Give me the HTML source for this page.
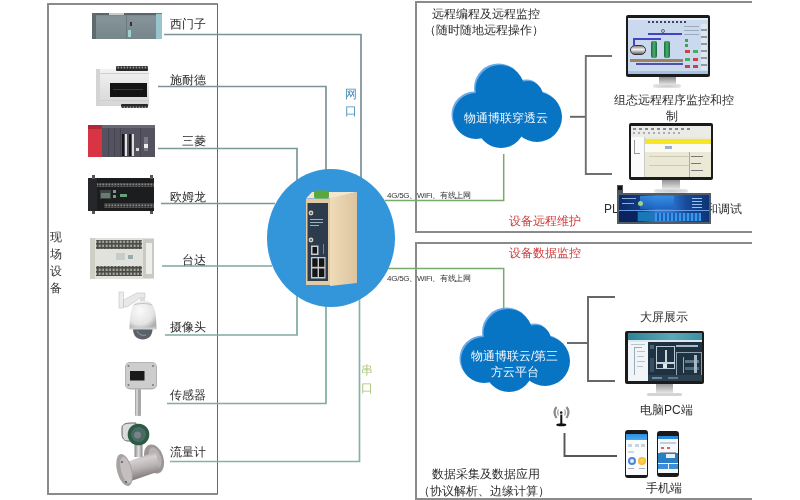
<!DOCTYPE html>
<html><head><meta charset="utf-8">
<style>
*{margin:0;padding:0;box-sizing:border-box}
html,body{width:800px;height:500px;overflow:hidden;background:#fff}
body{position:relative;font-family:"Liberation Sans",sans-serif;color:#333}
.a{position:absolute}
.t{position:absolute;white-space:nowrap;line-height:1}
.hl{position:absolute;height:2px}
.vl{position:absolute;width:2px}
.lab{font-size:12px;color:#2a2a2a;text-align:right;width:60px}
#wrap{position:absolute;left:0;top:0;width:800px;height:500px;filter:blur(0.35px)}
</style></head><body><div id="wrap">

<!-- left box -->
<div class="a" style="left:47px;top:3px;width:171px;height:492px;border:2px solid #8a8a8a;border-right:1.5px solid #686868;border-radius:1px"></div>
<div class="t" style="left:50px;top:228.5px;font-size:12px;line-height:17.2px;width:13px;white-space:normal;color:#333">现场设备</div>

<!-- right boxes -->
<div class="a" style="left:415px;top:1px;width:337px;height:232px;border:2px solid #8a8a8a;border-right:none"></div>
<div class="a" style="left:415px;top:242px;width:337px;height:258px;border:2px solid #8a8a8a;border-right:none"></div>


<!-- devices -->
<svg class="a" style="left:0;top:0" width="220" height="500">
 <defs>
  <linearGradient id="gS" x1="0" y1="0" x2="0" y2="1"><stop offset="0" stop-color="#6a787c"/><stop offset="0.15" stop-color="#84949a"/><stop offset="1" stop-color="#76868a"/></linearGradient>
  <linearGradient id="gW" x1="0" y1="0" x2="0" y2="1"><stop offset="0" stop-color="#f2f2f2"/><stop offset="1" stop-color="#d6d6d6"/></linearGradient>
  <linearGradient id="gM" x1="0" y1="0" x2="1" y2="0"><stop offset="0" stop-color="#cfd3d6"/><stop offset="0.5" stop-color="#f4f4f4"/><stop offset="1" stop-color="#a8acb0"/></linearGradient>
  <radialGradient id="gD" cx="0.4" cy="0.35" r="0.7"><stop offset="0" stop-color="#fafafa"/><stop offset="0.7" stop-color="#e4e4e4"/><stop offset="1" stop-color="#b0b0b0"/></radialGradient>
  <radialGradient id="gG" cx="0.5" cy="0.5" r="0.5"><stop offset="0" stop-color="#3a5a70"/><stop offset="0.6" stop-color="#2a6a50"/><stop offset="1" stop-color="#3a9a6a"/></radialGradient>
 </defs>
 <!-- siemens -->
 <rect x="92" y="13" width="70" height="26" fill="url(#gS)"/>
 <rect x="92" y="13" width="4" height="26" fill="#5e6a6e"/>
 <rect x="96" y="13" width="60" height="2" fill="#5a666a"/>
 <rect x="109" y="13" width="15" height="2" fill="#c8cccc"/>
 <rect x="126" y="15" width="1" height="24" fill="#6a7a7e"/>
 <rect x="156" y="14" width="6" height="25" fill="#98c4cc"/>
 <rect x="128" y="30" width="3" height="7" fill="#a0d0d0"/>
 <rect x="130" y="22" width="2" height="4" fill="#333"/>
 <!-- schneider -->
 <defs>
  <pattern id="pS" x="0" y="0" width="3" height="5" patternUnits="userSpaceOnUse"><rect width="3" height="5" fill="#2a2a2a"/><rect x="0.6" y="1.5" width="1.6" height="2" fill="#9a9a9a"/></pattern>
 </defs>
 <rect x="96" y="69" width="53" height="37" rx="1" fill="url(#gW)"/>
 <rect x="96" y="69" width="4" height="37" fill="#d4d4d4"/>
 <rect x="100" y="73" width="49" height="1" fill="#cfcfcf"/>
 <rect x="100" y="100" width="49" height="1" fill="#cfcfcf"/>
 <rect x="116" y="66" width="32" height="5" rx="1" fill="url(#pS)"/>
 <rect x="110" y="83" width="37" height="14" fill="#141414"/>
 <rect x="113" y="89" width="30" height="1" fill="#3a3a3a"/>
 <rect x="121" y="104" width="27" height="4" rx="1" fill="url(#pS)"/>
 <!-- mitsubishi -->
 <rect x="88" y="125" width="67" height="32" fill="#54525e"/>
 <rect x="88" y="125" width="14" height="32" fill="#d83444"/>
 <rect x="88" y="125" width="14" height="4" fill="#b02838"/>
 <rect x="102" y="125" width="53" height="3" fill="#6a6874"/>
 <rect x="108" y="128" width="1" height="29" fill="#464450"/>
 <rect x="114" y="128" width="1" height="29" fill="#464450"/>
 <rect x="120" y="128" width="1" height="29" fill="#464450"/>
 <rect x="122" y="134" width="2" height="22" fill="#151515"/>
 <rect x="125" y="134" width="2" height="22" fill="#e4e4e4"/>
 <rect x="129" y="134" width="2" height="22" fill="#151515"/>
 <rect x="132" y="134" width="2" height="22" fill="#dcdcdc"/>
 <rect x="136" y="148" width="3" height="3" fill="#ddd"/>
 <rect x="140" y="128" width="1" height="29" fill="#464450"/>
 <rect x="144" y="137" width="4" height="14" fill="#7a7a80"/>
 <rect x="144" y="144" width="4" height="4" fill="#eee"/>
 <!-- omron -->
 <defs>
  <pattern id="pT" x="0" y="0" width="3" height="3" patternUnits="userSpaceOnUse"><rect width="3" height="3" fill="#3a3a3a"/><rect x="0.5" y="0.5" width="1.6" height="1.6" fill="#8a8a8a"/></pattern>
  <pattern id="pD" x="0" y="0" width="3.5" height="4" patternUnits="userSpaceOnUse"><rect width="3.5" height="4" fill="#4a4a46"/><rect x="0.6" y="0.6" width="2" height="2.4" fill="#a8a8a2"/></pattern>
 </defs>
 <rect x="88" y="178" width="66" height="33" fill="#1c1d1f"/>
 <rect x="88" y="178" width="9" height="33" fill="#26272a"/>
 <rect x="97" y="183" width="57" height="4" fill="url(#pT)"/>
 <rect x="104" y="203" width="50" height="5" fill="url(#pT)"/>
 <rect x="100" y="190" width="11" height="9" fill="#3c4442"/>
 <rect x="101" y="193" width="9" height="5" fill="#6a7a70"/>
 <rect x="113" y="190" width="3" height="3" fill="#7a9a80"/>
 <rect x="113" y="195" width="3" height="3" fill="#7a9a80"/>
 <rect x="120" y="194" width="7" height="3" fill="#6aa07a"/>
 <rect x="92" y="175" width="3" height="4" fill="#555"/>
 <rect x="150" y="175" width="3" height="4" fill="#555"/>
 <rect x="92" y="211" width="3" height="3" fill="#555"/>
 <rect x="150" y="211" width="3" height="3" fill="#555"/>
 <!-- delta -->
 <rect x="90" y="238" width="64" height="41" fill="#e2e2dc"/>
 <rect x="90" y="238" width="5" height="41" fill="#cfcfc8"/>
 <rect x="96" y="240" width="46" height="9" fill="url(#pD)"/>
 <rect x="96" y="266" width="46" height="10" fill="url(#pD)"/>
 <rect x="143" y="239" width="11" height="39" fill="#cacac4"/>
 <rect x="146" y="243" width="6" height="31" fill="#eeeeea"/>
 <rect x="116" y="253" width="9" height="7" fill="#c4cccc"/>
 <rect x="128" y="255" width="5" height="4" fill="#9aa"/>
 <!-- camera -->
 <rect x="119" y="292" width="4.5" height="16" fill="#ececec" stroke="#c4c4c4" stroke-width="0.6"/>
 <polygon points="123.5,300 137,293 145,293 145,298 140,298 127,307 123.5,307" fill="#e8e8e8" stroke="#c0c0c0" stroke-width="0.6"/>
 <rect x="140" y="297" width="5" height="4" fill="#dcdcdc"/>
 <path d="M129.5,329 C129.5,318 131,306 135,303 C139,300 147,300 151,303 C155,306 156.5,318 156.5,329 Z" fill="url(#gD)"/>
 <path d="M134,305 C138,303 148,303 152,305" fill="none" stroke="#b8b8b8" stroke-width="0.8"/>
 <path d="M133,329 L152.5,329 C152.5,336 148,339.5 142.7,339.5 C137.5,339.5 133,336 133,329 Z" fill="#5c6068"/>
 <path d="M137,331 C139,335 143,336 146,335" fill="none" stroke="#9aa0a8" stroke-width="1"/>
 <rect x="129.5" y="327.5" width="27" height="2" fill="#d0d0d0"/>
 <!-- sensor -->
 <rect x="135" y="388" width="6" height="28" rx="1" fill="#a8a8a8"/>
 <rect x="136" y="388" width="2" height="28" fill="#d0d0d0"/>
 <rect x="125" y="362" width="32" height="27.5" rx="5" fill="#b4b4b4"/>
 <rect x="126" y="363" width="30" height="25" rx="4" fill="#cdcdcd"/>
 <circle cx="128.5" cy="366" r="1" fill="#777"/><circle cx="153" cy="366" r="1" fill="#777"/>
 <circle cx="128.5" cy="385" r="1" fill="#777"/><circle cx="153" cy="385" r="1" fill="#777"/>
 <rect x="130" y="371" width="14.5" height="9.5" fill="#1a1a1a"/>
 <!-- flowmeter -->
 <defs>
  <linearGradient id="gP" x1="0" y1="0" x2="0.25" y2="1"><stop offset="0" stop-color="#8e8888"/><stop offset="0.35" stop-color="#d4d0d0"/><stop offset="0.6" stop-color="#bcb6b6"/><stop offset="1" stop-color="#7a7474"/></linearGradient>
  <linearGradient id="gN" x1="0" y1="0" x2="1" y2="0"><stop offset="0" stop-color="#888"/><stop offset="0.5" stop-color="#ddd"/><stop offset="1" stop-color="#888"/></linearGradient>
 </defs>
 <ellipse cx="154" cy="459" rx="9.5" ry="15" fill="#9c9696" transform="rotate(-18 154 459)"/>
 <ellipse cx="155" cy="458" rx="6" ry="11" fill="#b8b2b2" transform="rotate(-18 155 458)"/>
 <rect x="134.5" y="443" width="8" height="14" fill="url(#gN)"/>
 <polygon points="127,462 156,451.5 160,471 131,481" fill="url(#gP)"/>
 <ellipse cx="124.5" cy="470" rx="7.5" ry="16.5" fill="#a8a2a2" transform="rotate(-14 124.5 470)"/>
 <ellipse cx="126" cy="470" rx="5" ry="13.5" fill="#c4bebe" transform="rotate(-14 126 470)"/>
 <circle cx="122" cy="462" r="1" fill="#555"/><circle cx="126" cy="482" r="1" fill="#555"/>
 <path d="M122,428 C122,424 126,423 132,423 L136,423 L136,441 L128,441 C124,441 122,438 122,434 Z" fill="#d8dcdc" stroke="#666" stroke-width="1"/>
 <circle cx="138.5" cy="434.5" r="10.8" fill="#2c5a42"/>
 <circle cx="138.5" cy="434.5" r="7.5" fill="#4a6a66"/>
 <circle cx="137.5" cy="435" r="3.5" fill="#7a8488"/>
</svg>

<!-- connection lines -->
<svg class="a" style="left:0;top:0" width="800" height="500">
 <g fill="none" stroke-width="1.7">
  <polyline points="164,34.5 361,34.5 361,180" stroke="#7d9199"/>
  <polyline points="158,86.5 326,86.5 326,175" stroke="#7d9399"/>
  <polyline points="158,148.5 297,148.5 297,185" stroke="#7a9a98"/>
  <polyline points="161,203.5 275,203.5" stroke="#7a9a98"/>
  <polyline points="162,266 272,266" stroke="#7fa3a0"/>
  <polyline points="165,335 297,335 297,295" stroke="#80a8a2"/>
  <polyline points="167,403.5 326,403.5 326,300" stroke="#80aca2"/>
  <polyline points="170,461.5 359.5,461.5 359.5,295" stroke="#88b0a8"/>
  <polyline points="385,200.5 503.7,200.5 503.7,154" stroke="#78aa6e" stroke-width="1.5"/>
  <polyline points="388,268.5 503.7,268.5 503.7,310" stroke="#78aa6e" stroke-width="1.5"/>
  <polyline points="570,116.8 585.8,116.8" stroke="#666" stroke-width="1.9"/>
  <polyline points="612,56 585.8,56 585.8,174 612,174" stroke="#707070" stroke-width="1.9"/>
  <polyline points="567,343 588,343" stroke="#666" stroke-width="1.9"/>
  <polyline points="615,297 588,297 588,381 615,381" stroke="#666" stroke-width="1.9"/>
  <polyline points="564.5,433 564.5,456 617,456" stroke="#555" stroke-width="1.9"/>
 </g>
</svg>

<!-- circle -->
<div class="a" style="left:267px;top:169px;width:128px;height:138px;border-radius:50%;background:#3496da"></div>


<!-- clouds -->
<svg class="a" style="left:0;top:0" width="800" height="500">
 <defs>
  <g id="cl">
   <circle cx="500" cy="89.5" r="24.5"/>
   <circle cx="528" cy="96" r="15"/>
   <circle cx="537" cy="117" r="25"/>
   <circle cx="476" cy="116" r="23"/>
   <circle cx="501" cy="124" r="24"/>
   <rect x="476" y="100" width="61" height="35"/>
  </g>
 </defs>
 <use href="#cl" fill="#6aaae6" transform="translate(-1.5,-1.5)"/>
 <use href="#cl" fill="#0874c4"/>
 <use href="#cl" fill="#6aaae6" transform="translate(6.5,242.5)"/>
 <use href="#cl" fill="#0874c4" transform="translate(8,244)"/>
</svg>
<div class="t" style="left:464px;top:112px;font-size:12px;color:#f4f8fc">物通博联穿透云</div>
<div class="t" style="left:471px;top:350px;font-size:12px;color:#f4f8fc">物通博联云/第三</div>
<div class="t" style="left:491px;top:366px;font-size:12px;color:#f4f8fc">方云平台</div>


<!-- monitor 1 : scada -->
<div class="a" style="left:653px;top:84px;width:28px;height:4px;border-radius:2px;background:radial-gradient(#c8c8c8,#eee)"></div>
<div class="a" style="left:659px;top:77px;width:17px;height:8px;background:linear-gradient(#8a8a8a,#e6e6e6)"></div>
<div class="a" style="left:626px;top:15px;width:84px;height:62px;border-radius:2px;background:#1b1b1b"></div>
<div class="a" style="left:628px;top:18px;width:80px;height:56px;background:#cad9ee;overflow:hidden">
 <div class="a" style="left:0;top:0;width:80px;height:2px;background:#e8eef6"></div>
 <div class="a" style="left:20px;top:3px;width:40px;height:2px;background:repeating-linear-gradient(90deg,#445 0 2px,transparent 2px 4px)"></div>
 <div class="a" style="left:2px;top:27px;width:16px;height:10px;border-radius:5px;border:1px solid #333;background:linear-gradient(#888,#f4f4f4 45%,#666)"></div>
 <div class="a" style="left:5px;top:20px;width:2px;height:8px;background:#4444c0"></div>
 <div class="a" style="left:5px;top:20px;width:28px;height:2px;background:#4444c0"></div>
 <div class="a" style="left:20px;top:15px;width:34px;height:2px;background:#4444c0"></div>
 <div class="a" style="left:33px;top:11px;width:4px;height:4px;border-radius:50%;border:1px solid #667"></div>
 <div class="a" style="left:23px;top:23px;width:6px;height:17px;border-radius:2px;background:linear-gradient(90deg,#1a6a3a,#4ab070,#1a6a3a)"></div>
 <div class="a" style="left:36px;top:23px;width:6px;height:17px;border-radius:2px;background:linear-gradient(90deg,#1a6a3a,#4ab070,#1a6a3a)"></div>
 <div class="a" style="left:2px;top:41px;width:53px;height:2.5px;background:#a08060"></div>
 <div class="a" style="left:8px;top:45px;width:47px;height:2px;background:#5050a8"></div>
 <div class="a" style="left:56px;top:8px;width:15px;height:1px;background:#9ab"></div>
 <div class="a" style="left:56px;top:12px;width:15px;height:1px;background:#9ab"></div>
 <div class="a" style="left:56px;top:16px;width:15px;height:1px;background:#9ab"></div>
 <div class="a" style="left:57px;top:21px;width:3px;height:3px;background:#40a060"></div>
 <div class="a" style="left:57px;top:26px;width:3px;height:3px;background:#40a060"></div>
 <div class="a" style="left:57px;top:32px;width:5px;height:3px;background:#d04040"></div>
 <div class="a" style="left:65px;top:32px;width:5px;height:3px;background:#40b060"></div>
 <div class="a" style="left:57px;top:40px;width:5px;height:3px;background:#40b060"></div>
 <div class="a" style="left:65px;top:40px;width:5px;height:3px;background:#d04040"></div>
 <div class="a" style="left:57px;top:47px;width:5px;height:3px;background:#d04040"></div>
 <div class="a" style="left:65px;top:47px;width:5px;height:3px;background:#d04040"></div>
 <div class="a" style="left:73px;top:6px;width:6px;height:46px;background:repeating-linear-gradient(#dfe6ee 0 5px,#8a9aaa 5px 7px)"></div>
 <div class="a" style="left:0;top:53px;width:80px;height:3px;background:#a4c0e4"></div>
</div>

<!-- monitor 2 : plc software -->
<div class="a" style="left:654px;top:189px;width:34px;height:4px;border-radius:2px;background:radial-gradient(#c8c8c8,#eee)"></div>
<div class="a" style="left:662px;top:179px;width:18px;height:10px;background:linear-gradient(#8a8a8a,#e6e6e6)"></div>
<div class="a" style="left:629px;top:123px;width:84px;height:57px;border-radius:2px;background:#1b1b1b"></div>
<div class="a" style="left:631px;top:126px;width:80px;height:51px;background:#ebe8d6;overflow:hidden">
 <div class="a" style="left:0;top:0;width:80px;height:11px;background:#ecece6"></div>
 <div class="a" style="left:2px;top:2px;width:60px;height:2px;background:repeating-linear-gradient(90deg,#889 0 3px,transparent 3px 6px)"></div>
 <div class="a" style="left:2px;top:6px;width:50px;height:2px;background:repeating-linear-gradient(90deg,#aab 0 2px,transparent 2px 5px)"></div>
 <div class="a" style="left:0;top:11px;width:14px;height:40px;background:#fbfbfb;border-right:1px solid #ccc"></div>
 <div class="a" style="left:3px;top:14px;width:6px;height:14px;border-left:1px solid #999;border-bottom:1px solid #999"></div>
 <div class="a" style="left:14px;top:13px;width:66px;height:4.5px;background:#f6e626"></div>
 <div class="a" style="left:14px;top:17.5px;width:66px;height:8px;background:#fbfbf4"></div>
 <div class="a" style="left:34px;top:20px;width:7px;height:3px;background:#9ab0d0"></div>
 <div class="a" style="left:18px;top:30px;width:40px;height:1px;background:#cfcab4"></div>
 <div class="a" style="left:18px;top:39px;width:40px;height:1px;background:#cfcab4"></div>
 <div class="a" style="left:58px;top:26px;width:1px;height:25px;background:#aaa"></div>
 <div class="a" style="left:60px;top:30px;width:12px;height:1px;background:#777"></div>
 <div class="a" style="left:60px;top:37px;width:10px;height:1px;background:#777"></div>
 <div class="a" style="left:60px;top:44px;width:12px;height:1px;background:#777"></div>
</div>

<!-- blue panel -->
<div class="a" style="z-index:5;left:617px;top:185px;width:6px;height:39px;background:#4e565e"></div>
<div class="a" style="z-index:5;left:617px;top:193px;width:94px;height:31px;background:#525c66"></div>
<div class="a" style="z-index:6;left:619px;top:195px;width:90px;height:27px;background:linear-gradient(90deg,#0c2a66 0%,#123c86 25%,#2c7cd8 42%,#2a74cc 58%,#164a98 75%,#0e3476 100%)"></div>
<div class="a" style="z-index:7;left:640px;top:196px;width:34px;height:13px;background:linear-gradient(#3a92e8,#1a62c0);opacity:.8"></div>
<div class="a" style="z-index:7;left:619px;top:210px;width:90px;height:1px;background:#6a9ae0"></div>
<div class="a" style="z-index:7;left:619px;top:211px;width:18px;height:11px;background:#0a2460"></div>
<div class="a" style="z-index:7;left:638px;top:212px;width:16px;height:9px;background:#1a78b8"></div>
<div class="a" style="z-index:7;left:655px;top:213px;width:46px;height:8px;background:repeating-linear-gradient(90deg,#3a9ae8 0 2px,#1a60b8 2px 4px)"></div>
<div class="a" style="z-index:7;left:622px;top:198px;width:14px;height:1px;background:#8ab0e0"></div>
<div class="a" style="z-index:7;left:622px;top:203px;width:12px;height:1px;background:#8ab0e0"></div>
<div class="a" style="z-index:7;left:692px;top:198px;width:10px;height:10px;background:repeating-linear-gradient(#9ac0f0 0 1px,transparent 1px 3px)"></div>
<div class="a" style="z-index:7;left:638px;top:201px;width:5px;height:5px;border-radius:50%;background:#a0d080"></div>
<div class="a" style="z-index:7;left:618px;top:186px;width:4px;height:4px;background:#151515"></div>
<!-- monitor 3 : big screen -->
<div class="a" style="left:647px;top:393px;width:35px;height:3px;border-radius:2px;background:#d4d4d4"></div>
<div class="a" style="left:656px;top:384px;width:17px;height:9px;background:linear-gradient(#9a9a9a,#e6e6e6)"></div>
<div class="a" style="left:625px;top:331px;width:79px;height:53px;border-radius:2px;background:#1b1b1b"></div>
<div class="a" style="left:628px;top:333px;width:74px;height:48px;background:#1f3242;overflow:hidden">
 <div class="a" style="left:0;top:0;width:74px;height:7px;background:linear-gradient(90deg,#2f8296,#5aa8b8 60%,#3a90a4)"></div>
 <div class="a" style="left:0;top:7px;width:74px;height:2px;background:#dce8ee"></div>
 <div class="a" style="left:0;top:9px;width:20px;height:39px;background:#f2f5f7"></div>
 <div class="a" style="left:6px;top:14px;width:8px;height:28px;border-left:1px solid #9ab;border-top:1px solid #9ab"></div>
 <div class="a" style="left:28px;top:13px;width:19px;height:23px;border:1.5px solid #b8c8d4"></div>
 <div class="a" style="left:37px;top:17px;width:1.5px;height:18px;background:#c8d4dc"></div>
 <div class="a" style="left:28px;top:29px;width:19px;height:1.5px;background:#c8d4dc"></div>
 <div class="a" style="left:35px;top:31px;width:4px;height:4px;background:#dfe6ea"></div>
 <div class="a" style="left:48px;top:19px;width:26px;height:24px;border:1.5px solid #8ea4b4"></div>
 <div class="a" style="left:55px;top:24px;width:1px;height:16px;background:#9ab"></div>
 <div class="a" style="left:48px;top:12px;width:22px;height:2px;background:#a8bcc8"></div>
 <div class="a" style="left:20px;top:42px;width:54px;height:6px;background:#2c4050"></div>
 <div class="a" style="left:3px;top:11px;width:14px;height:1px;background:#b8c4cc"></div>
 <div class="a" style="left:9px;top:18px;width:8px;height:1px;background:#b8c4cc"></div>
 <div class="a" style="left:9px;top:23px;width:7px;height:1px;background:#b8c4cc"></div>
 <div class="a" style="left:9px;top:28px;width:8px;height:1px;background:#b8c4cc"></div>
 <div class="a" style="left:9px;top:33px;width:6px;height:1px;background:#b8c4cc"></div>
 <div class="a" style="left:22px;top:12px;width:4px;height:4px;background:#4a6274"></div>
 <div class="a" style="left:22px;top:25px;width:4px;height:14px;background:#3a5060"></div>
 <div class="a" style="left:57px;top:27px;width:14px;height:3px;background:#5a7a8a"></div>
 <div class="a" style="left:57px;top:34px;width:14px;height:3px;background:#4a6a7a"></div>
 <div class="a" style="left:66px;top:22px;width:3px;height:18px;background:#aab8c4"></div>
 <div class="a" style="left:24px;top:44px;width:10px;height:2px;background:#6a8aa0"></div>
 <div class="a" style="left:40px;top:44px;width:10px;height:2px;background:#5a7a90"></div>
</div>
<!-- phones -->
<div class="a" style="left:625px;top:430px;width:23px;height:48px;border-radius:3px;background:#1a1a1a"></div>
<div class="a" style="left:626px;top:433.5px;width:21px;height:41px;background:#fafcfe;overflow:hidden">
 <div class="a" style="left:0;top:0;width:21px;height:6.5px;background:linear-gradient(#2a90e0,#4aaaf0)"></div>
 <div class="a" style="left:2px;top:10px;width:4px;height:3px;background:#c8d4e0"></div>
 <div class="a" style="left:9px;top:10px;width:4px;height:3px;background:#c8d4e0"></div>
 <div class="a" style="left:15px;top:10px;width:4px;height:3px;background:#c8d4e0"></div>
 <div class="a" style="left:2px;top:17px;width:6px;height:2px;background:#d0d8e0"></div>
 <div class="a" style="left:1.5px;top:23.5px;width:8px;height:8px;border-radius:50%;border:2px solid #4a86e0;background:#e8eef8"></div>
 <div class="a" style="left:12px;top:23.5px;width:8px;height:8px;border-radius:50%;background:radial-gradient(#ffd860,#f0a818)"></div>
 <div class="a" style="left:2px;top:34px;width:6px;height:1px;background:#aab"></div>
 <div class="a" style="left:13px;top:34px;width:6px;height:1px;background:#aab"></div>
</div>
<div class="a" style="left:657px;top:431px;width:22px;height:46px;border-radius:3px;background:#1a1a1a"></div>
<div class="a" style="left:658px;top:435.5px;width:20px;height:37px;background:#f6f9fc;overflow:hidden">
 <div class="a" style="left:0;top:0;width:20px;height:3.5px;background:#2a8ad8"></div>
 <div class="a" style="left:2px;top:6px;width:16px;height:2px;background:#c0d0e0"></div>
 <div class="a" style="left:3px;top:11px;width:3px;height:2px;background:#e06060"></div>
 <div class="a" style="left:9px;top:11px;width:3px;height:2px;background:#e06060"></div>
 <div class="a" style="left:2px;top:16px;width:16px;height:1px;background:#9ab"></div>
 <div class="a" style="left:0;top:17px;width:20px;height:10px;background:#2a7ec6"></div>
 <div class="a" style="left:8px;top:18px;width:9px;height:4px;background:#e8f0f8"></div>
 <div class="a" style="left:0;top:28px;width:9.5px;height:5px;background:#3a90d8"></div>
 <div class="a" style="left:10.5px;top:28px;width:9.5px;height:5px;background:#3a90d8"></div>
</div>

<!-- antenna -->
<svg class="a" style="left:545px;top:400px" width="30" height="30">
 <ellipse cx="16.3" cy="24.8" rx="5" ry="1.5" fill="#111"/>
 <rect x="15.3" y="14.6" width="2" height="10.5" fill="#111"/>
 <circle cx="16.2" cy="12.6" r="1.3" fill="#222"/>
 <path d="M11.5,7 Q7.5,12 11.5,18" fill="none" stroke="#8a8a8a" stroke-width="2.2"/>
 <path d="M13.5,9.5 Q11.5,12.5 13.5,15.5" fill="none" stroke="#aaa" stroke-width="1.2"/>
 <path d="M21.5,7 Q25.5,12 21.5,18" fill="none" stroke="#8a8a8a" stroke-width="2.2"/>
 <path d="M19.5,9.5 Q21.5,12.5 19.5,15.5" fill="none" stroke="#aaa" stroke-width="1.2"/>
</svg>


<!-- router -->
<svg class="a" style="left:290px;top:180px" width="80" height="115">
 <defs>
  <linearGradient id="gR" x1="0" y1="0" x2="1" y2="0"><stop offset="0" stop-color="#f0dcb8"/><stop offset="1" stop-color="#dcc4a0"/></linearGradient>
 </defs>
 <polygon points="40,18 67,12 67,103 40,106" fill="url(#gR)"/>
 <polygon points="16,18.5 22,12 67,12 40,18.5" fill="#f4e6cc"/>
 <rect x="16" y="19" width="24" height="86" fill="#e2caa4"/>
 <rect x="17.5" y="23" width="20.5" height="78" fill="#2c3c4c"/>
 <rect x="24" y="10.5" width="15" height="8" rx="2" fill="#5aa83a"/>
 <circle cx="21" cy="33" r="2.4" fill="#d8d0bc"/><circle cx="21" cy="33" r="1" fill="#555"/>
 <circle cx="21" cy="60" r="2.4" fill="#d8d0bc"/><circle cx="21" cy="60" r="1" fill="#555"/>
 <rect x="20" y="39" width="13" height="1" fill="#a0b0c0"/>
 <rect x="20" y="42" width="13" height="1" fill="#a0b0c0"/>
 <rect x="20" y="45" width="9" height="1" fill="#a0b0c0"/>
 <rect x="21" y="65.5" width="7.5" height="9.5" fill="#c8ccd0"/>
 <rect x="22.5" y="67" width="4.5" height="6.5" fill="#151515"/>
 <rect x="21" y="77" width="14.5" height="21.5" fill="#c8ccd0"/>
 <rect x="22.3" y="78.3" width="5.3" height="8.5" fill="#151515"/>
 <rect x="29" y="78.3" width="5.3" height="8.5" fill="#151515"/>
 <rect x="22.3" y="88.5" width="5.3" height="8.5" fill="#151515"/>
 <rect x="29" y="88.5" width="5.3" height="8.5" fill="#151515"/>
 <rect x="33" y="64" width="1" height="10" fill="#6a8aaa"/>
</svg>

<!-- labels left -->
<div class="t lab" style="left:146px;top:18px">西门子</div>
<div class="t lab" style="left:146px;top:74px">施耐德</div>
<div class="t lab" style="left:146px;top:135px">三菱</div>
<div class="t lab" style="left:146px;top:191px">欧姆龙</div>
<div class="t lab" style="left:146px;top:254px">台达</div>
<div class="t lab" style="left:146px;top:321px">摄像头</div>
<div class="t lab" style="left:146px;top:389px">传感器</div>
<div class="t lab" style="left:146px;top:446px">流量计</div>

<div class="t" style="left:345px;top:86px;font-size:12px;line-height:17px;width:13px;white-space:normal;color:#4a8db5">网口</div>
<div class="t" style="left:361px;top:362px;font-size:12px;line-height:17.5px;width:13px;white-space:normal;color:#a8c478">串口</div>

<!-- right texts -->
<div class="t" style="left:432px;top:8px;font-size:12px;color:#2e2e2e">远程编程及远程监控</div>
<div class="t" style="left:424px;top:24px;font-size:12px;color:#2e2e2e">（随时随地远程操作）</div>
<div class="t" style="left:387px;top:192px;font-size:8px;letter-spacing:-0.25px;color:#333">4G/5G、WiFi、有线上网</div>
<div class="t" style="left:387px;top:275px;font-size:8px;letter-spacing:-0.25px;color:#333">4G/5G、WiFi、有线上网</div>
<div class="t" style="left:509px;top:215px;font-size:12px;color:#d03a3a">设备远程维护</div>
<div class="t" style="left:509px;top:247px;font-size:12px;color:#d03a3a">设备数据监控</div>
<div class="t" style="left:614px;top:94px;font-size:12px;color:#2e2e2e">组态远程程序监控和控</div>
<div class="t" style="left:666px;top:110px;font-size:12px;color:#2e2e2e">制</div>
<div class="t" style="left:604px;top:203px;font-size:12px;color:#2e2e2e">PL</div>
<div class="t" style="left:706px;top:203px;font-size:12px;color:#2e2e2e">和调试</div>
<div class="t" style="left:640px;top:311px;font-size:12px;color:#2e2e2e">大屏展示</div>
<div class="t" style="left:640px;top:404px;font-size:12px;color:#2e2e2e">电脑PC端</div>
<div class="t" style="left:646px;top:482px;font-size:12px;color:#2e2e2e">手机端</div>
<div class="t" style="left:432px;top:468px;font-size:12px;color:#2e2e2e">数据采集及数据应用</div>
<div class="t" style="left:418px;top:485px;font-size:12px;color:#2e2e2e">（协议解析、边缘计算）</div>

</div></body></html>
